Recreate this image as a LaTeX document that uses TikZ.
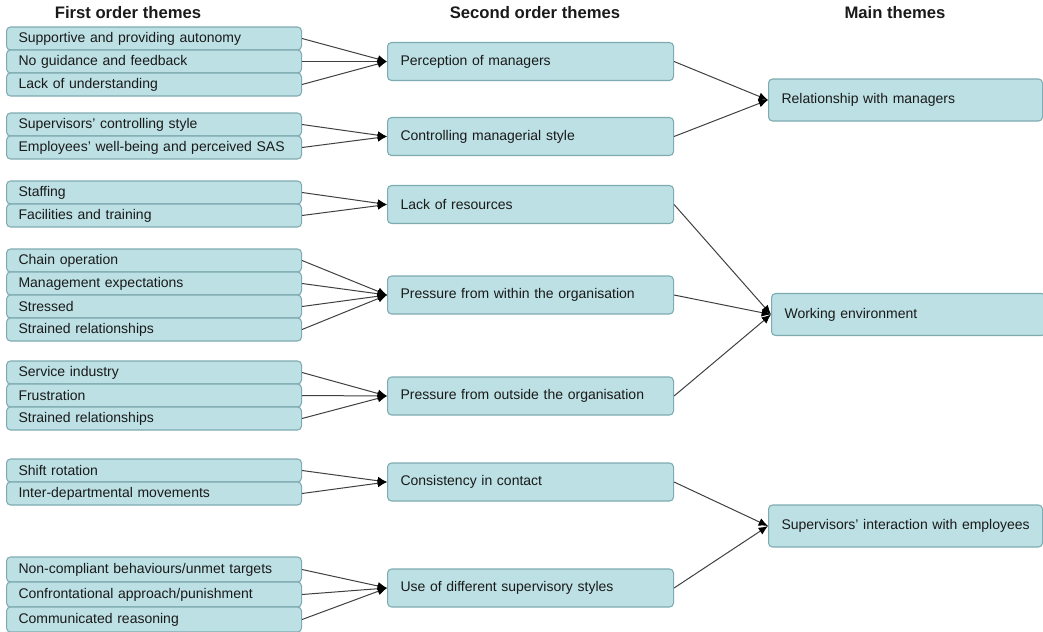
\documentclass[tikz,border=0pt]{standalone}
\usepackage{fontspec}
\setmainfont{Liberation Sans}
\usetikzlibrary{arrows.meta}
\definecolor{boxfill}{HTML}{BCE0E4}
\definecolor{boxline}{HTML}{7EABB0}
\definecolor{txt}{HTML}{1A1A1A}
\definecolor{conncol}{HTML}{404040}
\tikzset{
  base/.style={draw=boxline, fill=boxfill, rounded corners=3pt, line width=0.8pt,
    anchor=west, align=left, inner ysep=0pt, text=txt,
    font=\fontsize{10.5}{12.5}\selectfont},
  lbox/.style={base, text width=203.25pt, inner xsep=9pt, minimum height=17.25pt},
  lboxb/.style={lbox, minimum height=18.75pt},
  mbox/.style={base, text width=195pt, inner xsep=9.75pt, minimum height=28.5pt},
  tbox/.style={base, text width=186pt, inner xsep=9.75pt, minimum height=31.5pt},
  head/.style={font=\fontsize{12.5}{14}\selectfont\bfseries, text=txt, inner sep=0pt},
  conn/.style={draw=conncol, line width=0.75pt, -{Latex[length=7pt,width=6pt,color=black]}},
}
\begin{document}
\begin{tikzpicture}[x=0.75pt,y=-0.75pt]
\useasboundingbox (0,0) rectangle (1043,632);
% headers
\node[head] (h1) at (128,13) {First order themes};
\node[head] (h2) at (535,13) {Second order themes};
\node[head] (h3) at (895,13) {Main themes};
% first order
\node[lbox] (a1) at (6,38.5) {Supportive and providing autonomy};
\node[lbox] (a2) at (6,61.5) {No guidance and feedback};
\node[lbox] (a3) at (6,84.5) {Lack of understanding};
\node[lbox] (b1) at (6,124.5) {Supervisors’ controlling style};
\node[lbox] (b2) at (6,147.5) {\mbox{Employees’ well-being and perceived SAS}};
\node[lbox] (c1) at (6,192.5) {Staffing};
\node[lbox] (c2) at (6,215.5) {Facilities and training};
\node[lbox] (d1) at (6,260.5) {Chain operation};
\node[lbox] (d2) at (6,283.5) {Management expectations};
\node[lbox] (d3) at (6,306.5) {Stressed};
\node[lbox] (d4) at (6,329.5) {Strained relationships};
\node[lbox] (e1) at (6,372.5) {Service industry};
\node[lbox] (e2) at (6,395.5) {Frustration};
\node[lbox] (e3) at (6,418.5) {Strained relationships};
\node[lbox] (f1) at (6,470.5) {Shift rotation};
\node[lbox] (f2) at (6,493.5) {Inter-departmental movements};
\node[lboxb] (g1) at (6,569.5) {\mbox{Non-compliant behaviours/unmet targets}};
\node[lboxb] (g2) at (6,594.5) {Confrontational approach/punishment};
\node[lboxb] (g3) at (6,619.5) {Communicated reasoning};
% second order
\node[mbox] (m1) at (387,61.5) {Perception of managers};
\node[mbox] (m2) at (387,136.5) {Controlling managerial style};
\node[mbox] (m3) at (387,204.5) {Lack of resources};
\node[mbox] (m4) at (387,295) {Pressure from within the organisation};
\node[mbox] (m5) at (387,396) {Pressure from outside the organisation};
\node[mbox] (m6) at (387,482) {Consistency in contact};
\node[mbox] (m7) at (387,588) {Use of different supervisory styles};
% main
\node[tbox] (t1) at (768,100) {Relationship with managers};
\node[tbox] (t2) at (771,314.5) {Working environment};
\node[tbox] (t3) at (768,526) {\mbox{Supervisors’ interaction with employees}};
% connectors
\foreach \s in {a1,a2,a3} \draw[conn] (\s.east) -- (m1.west);
\foreach \s in {b1,b2} \draw[conn] (\s.east) -- (m2.west);
\foreach \s in {c1,c2} \draw[conn] (\s.east) -- (m3.west);
\foreach \s in {d1,d2,d3,d4} \draw[conn] (\s.east) -- (m4.west);
\foreach \s in {e1,e2,e3} \draw[conn] (\s.east) -- (m5.west);
\foreach \s in {f1,f2} \draw[conn] (\s.east) -- (m6.west);
\foreach \s in {g1,g2,g3} \draw[conn] (\s.east) -- (m7.west);
\foreach \s in {m1,m2} \draw[conn] (\s.east) -- (t1.west);
\foreach \s in {m3,m4,m5} \draw[conn] (\s.east) -- (t2.west);
\foreach \s in {m6,m7} \draw[conn] (\s.east) -- (t3.west);
\end{tikzpicture}
\end{document}
